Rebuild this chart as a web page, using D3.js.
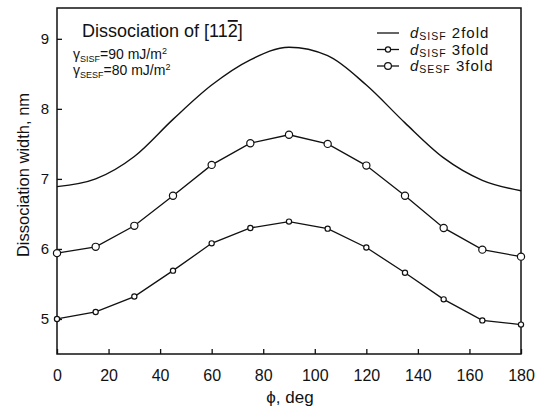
<!DOCTYPE html>
<html>
<head>
<meta charset="utf-8">
<title>Dissociation width</title>
<script src="https://d3js.org/d3.v7.min.js"></script>
<style>
  body { margin: 0; background: #fff; }
  svg text { font-family: "Liberation Sans", Arial, sans-serif; fill: #111; }
</style>
</head>
<body>
<div id="chart"></div>
<script>
// angle phi (deg) at which the curves are read
const angles = [0, 15, 30, 45, 60, 75, 90, 105, 120, 135, 150, 165, 180];

// dSISF 2fold (solid line, no markers)
const sisf2 = [6.89, 7.0, 7.32, 7.85, 8.34, 8.7, 8.88, 8.76, 8.34, 7.8, 7.3, 6.98, 6.83];
// dSISF 3fold (small markers)
const sisf3 = [5.0, 5.1, 5.32, 5.69, 6.08, 6.3, 6.39, 6.29, 6.02, 5.66, 5.28, 4.98, 4.92];
// dSESF 3fold (open circles)
const sesf3 = [5.94, 6.03, 6.33, 6.76, 7.2, 7.51, 7.63, 7.5, 7.19, 6.76, 6.3, 5.99, 5.89];

const xTicks = [0, 20, 40, 60, 80, 100, 120, 140, 160, 180];
const yTicks = [5, 6, 7, 8, 9];

const W = 542, H = 411;
const plot = { left: 57, right: 521, top: 8, bottom: 354 };

const svg = d3.select("#chart").append("svg")
    .attr("width", W)
    .attr("height", H);

const x = d3.scaleLinear().domain([0, 180]).range([plot.left, plot.right]);
const y = d3.scaleLinear().domain([4.5, 9.44]).range([plot.bottom, plot.top]);

// frame
svg.append("rect")
    .attr("x", plot.left).attr("y", plot.top)
    .attr("width", plot.right - plot.left).attr("height", plot.bottom - plot.top)
    .attr("fill", "none").attr("stroke", "#111").attr("stroke-width", 1.5);

// axes, ticks pointing inward
const xAxis = svg.append("g")
    .attr("transform", `translate(0,${plot.bottom})`)
    .call(d3.axisBottom(x).tickValues(xTicks).tickSize(-5).tickPadding(16).tickSizeOuter(0));
const yAxis = svg.append("g")
    .attr("transform", `translate(${plot.left},0)`)
    .call(d3.axisLeft(y).tickValues(yTicks).tickFormat(d3.format("d"))
      .tickSize(-5).tickPadding(8).tickSizeOuter(0));

[xAxis, yAxis].forEach(g => {
  g.select(".domain").remove();
  g.selectAll(".tick line").attr("stroke", "#111").attr("stroke-width", 1.3);
  g.selectAll(".tick text").attr("fill", "#111");
});
xAxis.selectAll(".tick text").style("font-size", "16px");
yAxis.selectAll(".tick text").style("font-size", "15px");

// axis labels
svg.append("text")
    .attr("x", 290).attr("y", 403)
    .attr("text-anchor", "middle")
    .style("font-size", "17px")
    .text("\u03d5, deg");

svg.append("text")
    .attr("transform", "translate(29,175) rotate(-90)")
    .attr("text-anchor", "middle")
    .style("font-size", "16.5px")
    .text("Dissociation width, nm");

// curves
const rows = arr => angles.map((a, i) => [a, arr[i]]);
const smooth = d3.line()
    .x(d => x(d[0]))
    .y(d => y(d[1]))
    .curve(d3.curveMonotoneX);
const straight = d3.line().x(d => x(d[0])).y(d => y(d[1]));

svg.append("path")
    .datum(rows(sisf2))
    .attr("fill", "none").attr("stroke", "#111").attr("stroke-width", 1.4)
    .attr("d", smooth);

[[sisf3, 2.6], [sesf3, 3.6]].forEach(([arr, r]) => {
  svg.append("path")
      .datum(rows(arr))
      .attr("fill", "none").attr("stroke", "#111").attr("stroke-width", 1.3)
      .attr("d", straight);
  svg.append("g")
      .selectAll("circle")
      .data(rows(arr))
      .join("circle")
      .attr("cx", d => x(d[0]))
      .attr("cy", d => y(d[1]))
      .attr("r", r)
      .attr("fill", "#fff")
      .attr("stroke", "#111")
      .attr("stroke-width", 1.2);
});

// annotation top-left
const note = svg.append("g");
const t1 = note.append("text").attr("x", 82).attr("y", 37).style("font-size", "18px");
t1.append("tspan").text("Dissociation of [11");
t1.append("tspan").style("text-decoration", "overline").text("2");
t1.append("tspan").text("]");

[["SISF", "=90 mJ/m", 59], ["SESF", "=80 mJ/m", 75]].forEach(([sub, rest, yy]) => {
  const t = note.append("text").attr("x", 73).attr("y", yy).style("font-size", "14px");
  t.append("tspan").text("\u03b3");
  t.append("tspan").attr("dy", 3).style("font-size", "9px").text(sub);
  t.append("tspan").attr("dy", -3).text(rest);
  t.append("tspan").attr("dy", -5).style("font-size", "9px").text("2");
});

// legend
const legend = [
  { sub: "SISF", txt: " 2fold", r: 0 },
  { sub: "SISF", txt: " 3fold", r: 2.6 },
  { sub: "SESF", txt: " 3fold", r: 3.4 }
];
const lg = svg.append("g");
legend.forEach((d, i) => {
  const yy = 33 + i * 16.5;
  lg.append("line")
      .attr("x1", 377).attr("x2", 399).attr("y1", yy).attr("y2", yy)
      .attr("stroke", "#111").attr("stroke-width", 1.3);
  if (d.r) {
    lg.append("circle").attr("cx", 388).attr("cy", yy).attr("r", d.r)
        .attr("fill", "#fff").attr("stroke", "#111").attr("stroke-width", 1.2);
  }
  const t = lg.append("text").attr("x", 410).attr("y", yy + 5)
      .style("font-size", "15px").style("letter-spacing", "1px");
  t.append("tspan").style("font-style", "italic").text("d");
  t.append("tspan").attr("dy", 2).style("font-size", "10.5px").text(d.sub);
  t.append("tspan").attr("dy", -2).text(d.txt);
});
</script>
</body>
</html>
